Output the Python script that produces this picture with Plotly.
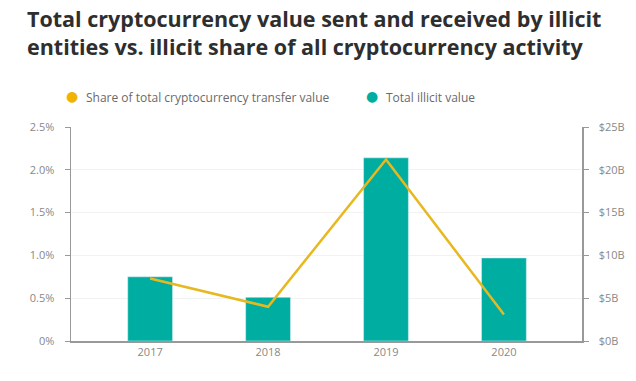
import plotly.graph_objects as go

years = ["2017", "2018", "2019", "2020"]
illicit_value_b = [7.5, 5.1, 21.4, 9.7]
illicit_share_pct = [0.73, 0.40, 2.12, 0.31]

left_tickvals = [0, 0.5, 1.0, 1.5, 2.0, 2.5]
left_ticktext = ["0%", "0.5%", "1.0%", "1.5%", "2.0%", "2.5%"]
right_tickvals = [0, 5, 10, 15, 20, 25]
right_ticktext = ["$0B", "$5B", "$10B", "$15B", "$20B", "$25B"]

title_lines = ["Total cryptocurrency value sent and received by illicit",
               "entities vs. illicit share of all cryptocurrency activity"]
legend_labels = ["Share of total cryptocurrency transfer value", "Total illicit value"]

TEAL = "#00ADA1"
GOLD = "#E8B820"
GREY = "#888888"
FONT = "Open Sans"

W, H = 636, 381
L, R, T, B = 71, 54, 127, 40
PW, PH = W - L - R, H - T - B


def px_x(x):
    return (x - L) / PW


def px_y(y):
    return (H - B - y) / PH


fig = go.Figure()
fig.add_trace(go.Bar(
    x=years, y=illicit_value_b, yaxis="y", marker_color=TEAL,
    width=0.38, showlegend=False, name=legend_labels[1]))
fig.add_trace(go.Scatter(
    x=years, y=illicit_share_pct, yaxis="y2", mode="lines",
    line=dict(color=GOLD, width=2.5), showlegend=False,
    name=legend_labels[0]))

annotations = []
for i, (line, yc) in enumerate(zip(title_lines, [18, 47])):
    annotations.append(dict(
        text=line, xref="paper", yref="paper", x=px_x(25), y=px_y(yc),
        xanchor="left", yanchor="middle", showarrow=False,
        font=dict(family=FONT, size=21.5, color="#2E2E2E", weight="bold")))

for label, color, dx, tx in [(legend_labels[0], "#F0B400", 72, 84),
                             (legend_labels[1], TEAL, 372, 384)]:
    annotations.append(dict(
        text="●", xref="paper", yref="paper", x=px_x(dx), y=px_y(96),
        xanchor="center", yanchor="middle", showarrow=False,
        font=dict(family="DejaVu Sans", size=14, color=color)))
    annotations.append(dict(
        text=label, xref="paper", yref="paper", x=px_x(tx), y=px_y(97),
        xanchor="left", yanchor="middle", showarrow=False,
        font=dict(family=FONT, size=12, color="#6A6A6A")))

fig.update_layout(
    width=W, height=H,
    margin=dict(l=L, r=R, t=T, b=B, autoexpand=False),
    paper_bgcolor="white", plot_bgcolor="white",
    font=dict(family=FONT, color=GREY, size=11),
    showlegend=False,
    annotations=annotations,
    xaxis=dict(
        type="category", range=[-0.671, 3.662], showgrid=False,
        showline=True, linecolor="#999999", linewidth=1.5,
        ticks="", tickfont=dict(size=11, color=GREY), automargin=False),
    yaxis=dict(
        range=[0, 25], tickvals=right_tickvals, ticktext=right_ticktext,
        side="right",
        showline=True, linecolor="#999999", linewidth=1.5,
        ticks="outside", ticklen=5, tickcolor="#999999",
        gridcolor="#F2F2F2", zeroline=False, ticklabelstandoff=8,
        tickfont=dict(size=11, color=GREY), automargin=False),
    yaxis2=dict(
        range=[0, 2.5], tickvals=left_tickvals, ticktext=left_ticktext,
        overlaying="y", side="left",
        showline=True, linecolor="#999999", linewidth=1.5,
        ticks="outside", ticklen=5, tickcolor="#999999",
        showgrid=False, zeroline=False, ticklabelstandoff=8,
        tickfont=dict(size=11, color=GREY), automargin=False),
    bargap=0,
)

fig.write_html("out.html", config={"displayModeBar": False, "staticPlot": True},
               post_script="document.body.style.margin='0';document.body.style.overflow='hidden';")
